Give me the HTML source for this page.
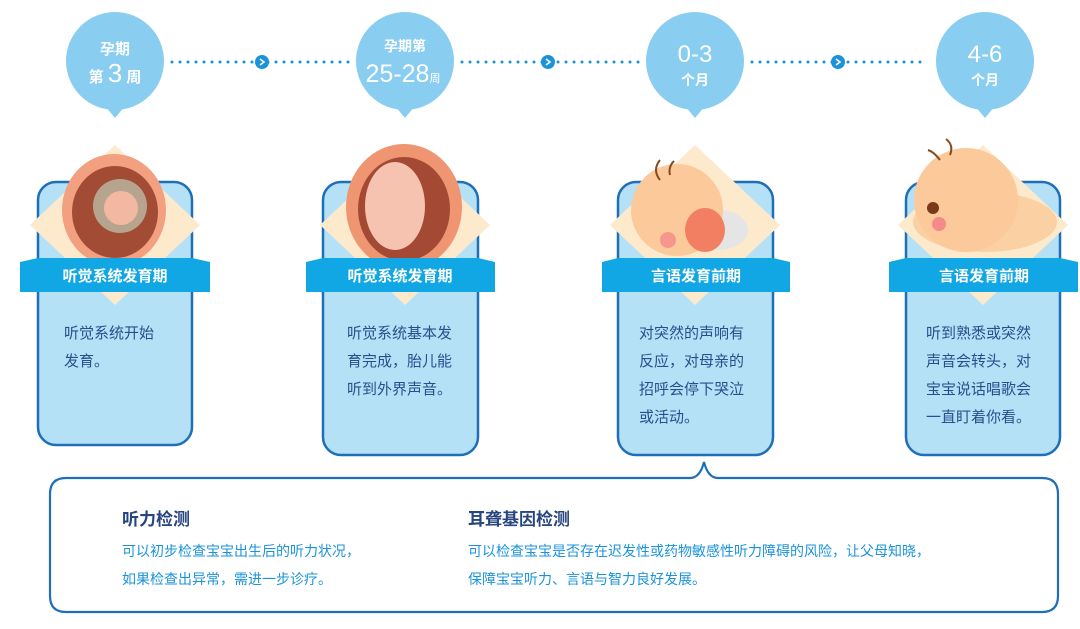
<!DOCTYPE html>
<html><head><meta charset="utf-8"><style>
html,body{margin:0;padding:0;background:#fff;}
svg text{font-family:"Liberation Sans","Noto Sans CJK SC",sans-serif;}
</style></head><body>
<svg width="1080" height="624" viewBox="0 0 1080 624" xmlns="http://www.w3.org/2000/svg">
<defs>
<g id="bub"><circle cx="0" cy="0" r="49" fill="#89cdf1"/><path d="M-10 45 L0 57 L10 45 Z" fill="#89cdf1"/></g>
<g id="arr"><circle r="7" fill="#1a93db"/><path d="M-2 -3 L2 0 L-2 3" stroke="#fff" stroke-width="1.6" fill="none"/></g>
</defs>
<g stroke="#1a93db" stroke-width="3" stroke-linecap="round" stroke-dasharray="0 8">
<line x1="172" y1="62" x2="350" y2="62"/>
<line x1="462" y1="62" x2="640" y2="62"/>
<line x1="752" y1="62" x2="928" y2="62"/>
</g>
<use href="#arr" x="262" y="62"/><use href="#arr" x="548" y="62"/><use href="#arr" x="838" y="62"/>
<use href="#bub" x="115" y="61"/><use href="#bub" x="405" y="61"/><use href="#bub" x="695" y="61"/><use href="#bub" x="985" y="61"/>
<g fill="#fff" text-anchor="middle" font-weight="bold">
<text x="115" y="54" font-size="15">孕期</text>
<text x="115" y="82" font-size="15">第 <tspan font-size="26" font-weight="normal">3</tspan> 周</text>
<text x="405" y="51" font-size="14">孕期第</text>
<text x="403" y="82" font-size="25" font-weight="normal">25-28<tspan font-size="11">周</tspan></text>
<text x="695" y="62" font-size="24" font-weight="normal">0-3</text>
<text x="695" y="85" font-size="14">个月</text>
<text x="985" y="62" font-size="24" font-weight="normal">4-6</text>
<text x="985" y="85" font-size="14">个月</text>
</g>
<g fill="#b5e1f7" stroke="#1f6fb8" stroke-width="2.5">
<rect x="38" y="182" width="154" height="263" rx="18"/>
<rect x="323" y="182" width="155" height="273" rx="18"/>
<rect x="618" y="182" width="155" height="273" rx="18"/>
<rect x="906" y="182" width="154" height="273" rx="18"/>
</g>
<g fill="#fde9cc">
<path d="M115 145 L200 225 L115 305 L30 225Z"/>
<path d="M405 145 L490 225 L405 305 L320 225Z"/>
<path d="M695 145 L780 225 L695 305 L610 225Z"/>
<path d="M983 145 L1068 225 L983 305 L898 225Z"/>
</g>
<ellipse cx="114" cy="210" rx="52" ry="56" fill="#f2a07f"/>
<ellipse cx="115" cy="212" rx="43" ry="46" fill="#a24c36"/>
<circle cx="120" cy="206" r="27" fill="#b7a48f"/><circle cx="121" cy="208" r="17" fill="#f2b8a2"/>
<ellipse cx="404" cy="207" rx="58" ry="63" fill="#ef9572"/>
<ellipse cx="404" cy="209" rx="46" ry="52" fill="#a44a34"/>
<ellipse cx="395" cy="206" rx="30" ry="44" fill="#f6c3b0"/>
<ellipse cx="718" cy="230" rx="30" ry="20" fill="#e5e5e5"/>
<circle cx="677" cy="210" r="46" fill="#fbc99a"/>
<ellipse cx="705" cy="230" rx="20" ry="22" fill="#f37f62"/>
<circle cx="668" cy="240" r="8" fill="#f58a8a" opacity=".8"/>
<path d="M660 180 q-8 -10 0 -20 M670 175 q-2 -8 4 -14" stroke="#8a4a20" stroke-width="2" fill="none"/>
<ellipse cx="985" cy="222" rx="72" ry="30" fill="#fbd1a4"/>
<circle cx="966" cy="200" r="52" fill="#fbc99a"/>
<circle cx="933" cy="208" r="6" fill="#7a3a1a"/>
<circle cx="939" cy="224" r="7" fill="#f58a8a"/>
<path d="M950 155 q4 -10 -4 -16 M940 160 q-6 -8 -12 -10" stroke="#8a4a20" stroke-width="2" fill="none"/>
<g fill="#10a7e4">
<path d="M20 262 L38 258 L192 258 L210 262 L210 292 L20 292Z"/>
<path d="M306 262 L323 258 L478 258 L495 262 L495 292 L306 292Z"/>
<path d="M602 262 L618 258 L773 258 L790 262 L790 292 L602 292Z"/>
<path d="M889 262 L906 258 L1060 258 L1078 262 L1078 292 L889 292Z"/>
</g>
<g fill="#fff" font-size="15" font-weight="bold" text-anchor="middle">
<text x="115" y="281">听觉系统发育期</text>
<text x="400" y="281">听觉系统发育期</text>
<text x="696" y="281">言语发育前期</text>
<text x="984" y="281">言语发育前期</text>
</g>
<g fill="#2b4d8c" font-size="15">
<text x="64" y="338">听觉系统开始</text><text x="64" y="366">发育。</text>
<text x="347" y="338">听觉系统基本发</text><text x="347" y="366">育完成，胎儿能</text><text x="347" y="394">听到外界声音。</text>
<text x="639" y="338">对突然的声响有</text><text x="639" y="366">反应，对母亲的</text><text x="639" y="394">招呼会停下哭泣</text><text x="639" y="422">或活动。</text>
<text x="926" y="338">听到熟悉或突然</text><text x="926" y="366">声音会转头，对</text><text x="926" y="394">宝宝说话唱歌会</text><text x="926" y="422">一直盯着你看。</text>
</g>
<path d="M66 478 L690 478 Q700 478 704 462 Q708 478 718 478 L1042 478 Q1058 478 1058 494 L1058 596 Q1058 612 1042 612 L66 612 Q50 612 50 596 L50 494 Q50 478 66 478Z" fill="#fff" stroke="#1f6fb8" stroke-width="2.2"/>
<g font-weight="bold" fill="#27457f" font-size="17">
<text x="122" y="525">听力检测</text><text x="468" y="525">耳聋基因检测</text>
</g>
<g fill="#1a93db" font-size="14">
<text x="122" y="556">可以初步检查宝宝出生后的听力状况，</text>
<text x="122" y="584">如果检查出异常，需进一步诊疗。</text>
<text x="468" y="556">可以检查宝宝是否存在迟发性或药物敏感性听力障碍的风险，让父母知晓，</text>
<text x="468" y="584">保障宝宝听力、言语与智力良好发展。</text>
</g>
</svg>
</body></html>
